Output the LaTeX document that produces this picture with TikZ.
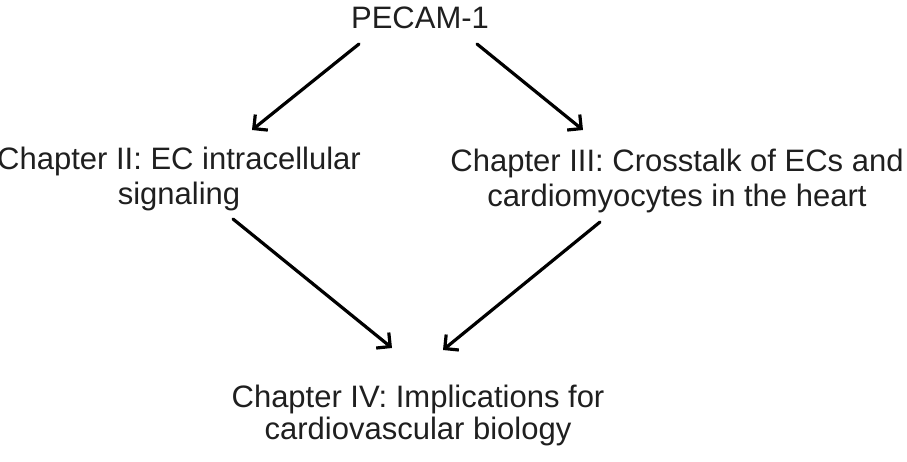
\documentclass[tikz,border=0pt]{standalone}
\usepackage{fontspec}
\setmainfont{Liberation Sans}
\usetikzlibrary{arrows.meta,calc}
\begin{document}
\begin{tikzpicture}[x=1pt,y=-1pt,
  txt/.style={inner sep=0pt, align=center, text=black!88,
    font=\fontsize{31}{35}\selectfont},
  arr/.style={line width=3.2pt, line cap=round,
    -{Straight Barb[length=10pt,width=20pt,line width=3.2pt]}}]
\useasboundingbox (0,0) rectangle (907,462);

% topic and chapters
\node[txt, anchor=base]  (pecam) at (420,29)  {PECAM-1};
\node[txt, anchor=north] (ch2)   at (179,147) {Chapter II: EC intracellular\\signaling};
\node[txt, anchor=north] (ch3)   at (677,149) {Chapter III: Crosstalk of ECs and\\cardiomyocytes in the heart};
\node[txt, anchor=north, font=\fontsize{31}{32}\selectfont] (ch4) at (418,385)
  {Chapter IV: Implications for\\cardiovascular biology};

% arrow end points, placed relative to the nodes
\coordinate (p-l)  at ($(pecam.base)+(-61,15)$);
\coordinate (p-r)  at ($(pecam.base)+(57,15)$);
\coordinate (c2-t) at ($(ch2.north)+(73,-17)$);
\coordinate (c3-t) at ($(ch3.north)+(-94,-19)$);
\coordinate (c2-b) at ($(ch2.north)+(54,72)$);
\coordinate (c3-b) at ($(ch3.north)+(-77,73)$);
\coordinate (c4-l) at ($(ch4.north)+(-26,-37)$);
\coordinate (c4-r) at ($(ch4.north)+(25,-35)$);

\draw[arr] (p-l) -- (c2-t);
\draw[arr] (p-r) -- (c3-t);
\draw[arr] (c2-b) -- (c4-l);
\draw[arr] (c3-b) -- (c4-r);
\end{tikzpicture}
\end{document}
